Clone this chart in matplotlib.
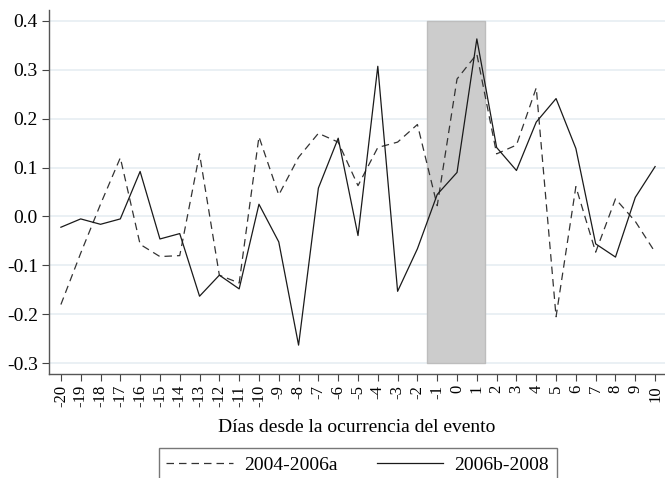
import matplotlib
matplotlib.use("Agg")
import matplotlib.pyplot as plt

days = list(range(-20, 11))
series_a = [-0.180, -0.075, 0.025, 0.120, -0.057, -0.082, -0.080, 0.128, -0.120, -0.136,
            0.163, 0.044, 0.121, 0.170, 0.152, 0.063, 0.141, 0.152, 0.188, 0.022,
            0.281, 0.332, 0.128, 0.146, 0.263, -0.205, 0.061, -0.073, 0.036, -0.010, -0.073]
series_b = [-0.022, -0.005, -0.016, -0.005, 0.092, -0.046, -0.035, -0.163, -0.120, -0.148,
            0.025, -0.052, -0.263, 0.058, 0.160, -0.039, 0.307, -0.153, -0.066, 0.045,
            0.090, 0.363, 0.141, 0.094, 0.193, 0.241, 0.139, -0.056, -0.083, 0.039, 0.102]
label_a = "2004-2006a"
label_b = "2006b-2008"
event_window = (-1.5, 1.4)
y_ticks = [-0.3, -0.2, -0.1, 0.0, 0.1, 0.2, 0.3, 0.4]

plt.rcParams['font.family'] = ['Liberation Serif', 'DejaVu Serif']

fig = plt.figure(figsize=(6.65, 4.78), dpi=100)
ax = fig.add_axes([0.0737, 0.2176, 0.9263, 0.7614])

for yt in y_ticks:
    ax.axhline(yt, color='#e6eef2', lw=1.2, zorder=0)

ax.fill_between(event_window, [-0.3, -0.3], [0.4, 0.4], facecolor='#cccccc',
                edgecolor='#bdbdbd', lw=1, zorder=1)

ax.plot(days, series_a, color='#333333', lw=0.9, ls=(0, (6, 4)), label=label_a, zorder=3)
ax.plot(days, series_b, color='#1a1a1a', lw=0.9, ls='-', label=label_b, zorder=3)

ax.set_xlim(-20.6, 10.5)
ax.set_ylim(-0.322, 0.422)
ax.set_xticks(days)
ax.set_xticklabels([str(d) for d in days], rotation=90, fontsize=12)
ax.set_yticks(y_ticks)
ax.set_yticklabels([f"{v:.1f}" for v in y_ticks], fontsize=14)
ax.tick_params(axis='both', direction='out', length=5, width=0.8, color='#444444', pad=3)

for side in ('top', 'right'):
    ax.spines[side].set_visible(False)
for side in ('left', 'bottom'):
    ax.spines[side].set_color('#555555')
    ax.spines[side].set_linewidth(1.0)

ax.set_xlabel("Días desde la ocurrencia del evento", fontsize=14, labelpad=8)

leg = fig.legend(loc='upper center', bbox_to_anchor=(0.538, 0.062), ncol=2,
                 fontsize=14, frameon=True, fancybox=False, handlelength=3.4,
                 columnspacing=2.0, handletextpad=0.6, borderpad=0.4,
                 borderaxespad=0.0)
leg.get_frame().set_edgecolor('#555555')
leg.get_frame().set_linewidth(1.0)

fig.savefig("out.png", dpi=100)
